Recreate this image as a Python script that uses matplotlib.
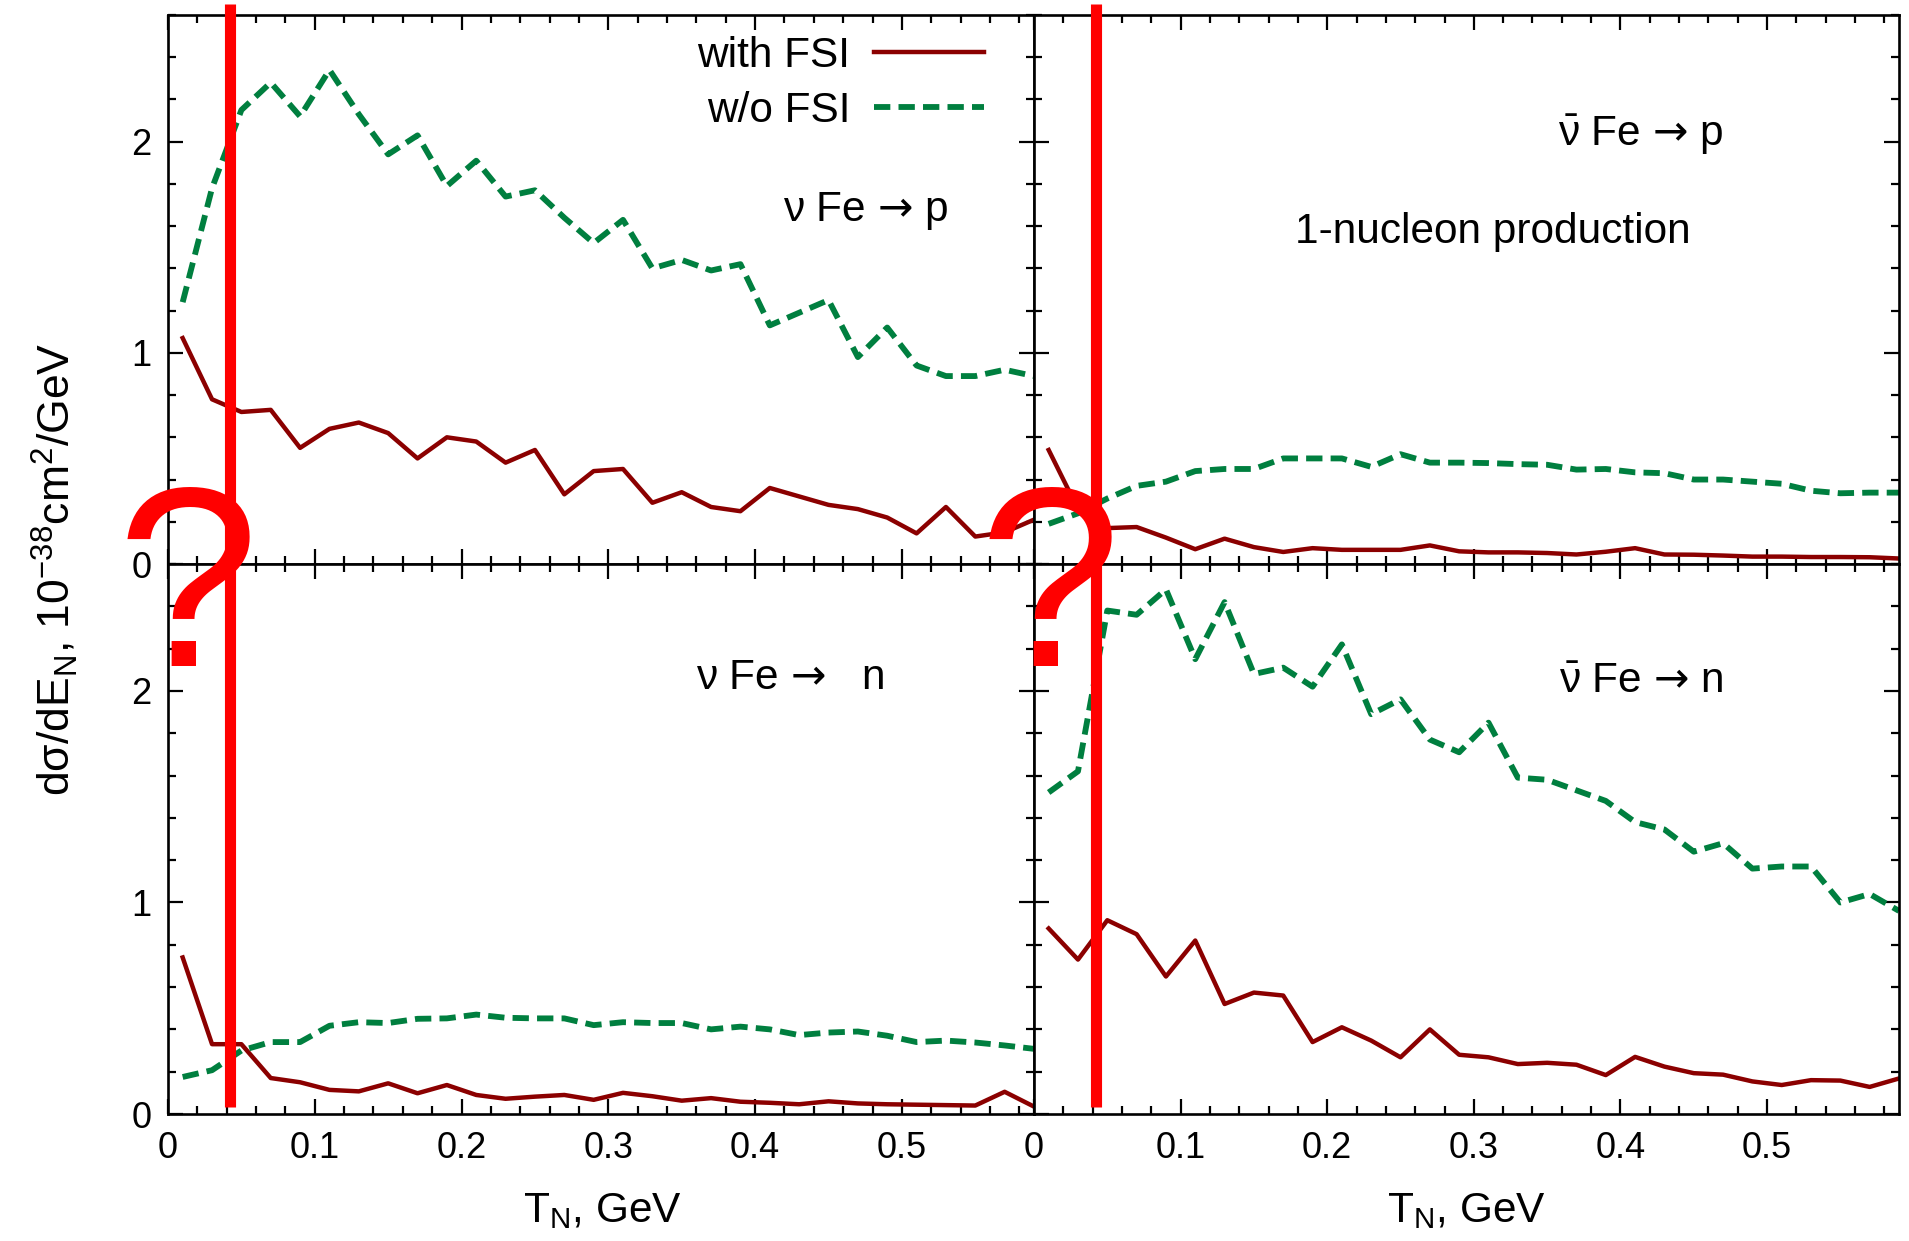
import numpy as np
import matplotlib
matplotlib.use("Agg")
import matplotlib.pyplot as plt
from matplotlib.lines import Line2D
from matplotlib.transforms import blended_transform_factory
from matplotlib.ticker import MultipleLocator

plt.rcParams['font.family'] = ['Liberation Sans', 'DejaVu Sans']
plt.rcParams['mathtext.fontset'] = 'custom'
plt.rcParams['mathtext.rm'] = 'Liberation Sans'
plt.rcParams['mathtext.it'] = 'Liberation Sans'
plt.rcParams['mathtext.bf'] = 'Liberation Sans:bold'
plt.rcParams['mathtext.sf'] = 'DejaVu Sans'

# ---------------- data ----------------
T_N = [0.01, 0.03, 0.05, 0.07, 0.09, 0.11, 0.13, 0.15, 0.17, 0.19,
       0.21, 0.23, 0.25, 0.27, 0.29, 0.31, 0.33, 0.35, 0.37, 0.39,
       0.41, 0.43, 0.45, 0.47, 0.49, 0.51, 0.53, 0.55, 0.57, 0.59]

nu_p_fsi = [1.07, 0.78, 0.72, 0.73, 0.55, 0.64, 0.67, 0.62, 0.50, 0.60,
            0.58, 0.48, 0.54, 0.33, 0.44, 0.45, 0.29, 0.34, 0.27, 0.25,
            0.36, 0.32, 0.28, 0.26, 0.22, 0.145, 0.27, 0.13, 0.15, 0.21]
nu_p_nofsi = [1.24, 1.78, 2.15, 2.28, 2.12, 2.34, 2.13, 1.94, 2.03, 1.79,
              1.91, 1.74, 1.77, 1.64, 1.52, 1.63, 1.40, 1.44, 1.39, 1.42,
              1.13, 1.19, 1.25, 0.98, 1.12, 0.94, 0.89, 0.89, 0.92, 0.89]

nubar_p_fsi = [0.54, 0.26, 0.17, 0.175, 0.125, 0.07, 0.12, 0.08, 0.057, 0.075,
               0.067, 0.067, 0.067, 0.088, 0.06, 0.055, 0.055, 0.052, 0.045, 0.058,
               0.075, 0.045, 0.044, 0.04, 0.035, 0.035, 0.033, 0.033, 0.032, 0.026]
nubar_p_nofsi = [0.19, 0.24, 0.31, 0.37, 0.39, 0.44, 0.45, 0.45, 0.50, 0.50,
                 0.50, 0.46, 0.52, 0.48, 0.48, 0.478, 0.473, 0.47, 0.447, 0.45,
                 0.434, 0.43, 0.40, 0.40, 0.39, 0.38, 0.347, 0.335, 0.338, 0.338]

nu_n_fsi = [0.74, 0.33, 0.33, 0.17, 0.15, 0.114, 0.107, 0.145, 0.098, 0.137,
            0.09, 0.072, 0.082, 0.09, 0.067, 0.10, 0.084, 0.063, 0.075, 0.058,
            0.053, 0.046, 0.06, 0.05, 0.046, 0.044, 0.042, 0.04, 0.105, 0.035]
nu_n_nofsi = [0.175, 0.207, 0.30, 0.34, 0.34, 0.417, 0.434, 0.43, 0.45, 0.452,
              0.47, 0.455, 0.452, 0.452, 0.42, 0.434, 0.43, 0.43, 0.40, 0.413,
              0.40, 0.373, 0.385, 0.39, 0.37, 0.34, 0.347, 0.338, 0.324, 0.308]

nubar_n_fsi = [0.877, 0.73, 0.916, 0.85, 0.65, 0.82, 0.52, 0.574, 0.56, 0.34,
               0.41, 0.347, 0.268, 0.40, 0.28, 0.268, 0.236, 0.242, 0.233, 0.184,
               0.27, 0.224, 0.193, 0.186, 0.154, 0.137, 0.16, 0.158, 0.128, 0.168]
nubar_n_nofsi = [1.52, 1.62, 2.38, 2.36, 2.48, 2.15, 2.42, 2.08, 2.11, 2.02,
                 2.22, 1.89, 1.96, 1.77, 1.71, 1.85, 1.59, 1.58, 1.53, 1.48,
                 1.38, 1.345, 1.24, 1.28, 1.16, 1.17, 1.17, 1.00, 1.04, 0.96]

panel_labels = [r'$\nu$ Fe $\mathsf{→}$ p',
                r'$\bar{\nu}$ Fe $\mathsf{→}$ p',
                r'$\nu$ Fe $\mathsf{→}$   n',
                r'$\bar{\nu}$ Fe $\mathsf{→}$ n']
legend_labels = ['with FSI', 'w/o FSI']
xticks = [0, 0.1, 0.2, 0.3, 0.4, 0.5]
xtick_labels = ['0', '0.1', '0.2', '0.3', '0.4', '0.5']
yticks = [0, 1, 2]
ytick_labels = ['0', '1', '2']
marker_T = 0.042  # position of the red vertical marker lines

# ---------------- style ----------------
RED = '#8b0000'
GREEN = '#007f3f'
MARK = '#ff0000'
FS_TICK = 26
FS_TEXT = 30.5

W, H = 1909, 1241
fig = plt.figure(figsize=(W / 100, H / 100), dpi=100)

xl, xm, xr = 168 / W, 1034 / W, 1899 / W
yt, ym, yb = 1 - 15 / H, 1 - 564 / H, 1 - 1114 / H

ax_tl = fig.add_axes([xl, ym, xm - xl, yt - ym])
ax_tr = fig.add_axes([xm, ym, xr - xm, yt - ym])
ax_bl = fig.add_axes([xl, yb, xm - xl, ym - yb])
ax_br = fig.add_axes([xm, yb, xr - xm, ym - yb])

panels = [
    (ax_tl, nu_p_fsi, nu_p_nofsi, panel_labels[0], (0.475, 1.67)),
    (ax_tr, nubar_p_fsi, nubar_p_nofsi, panel_labels[1], (0.414, 2.03)),
    (ax_bl, nu_n_fsi, nu_n_nofsi, panel_labels[2], (0.424, 2.06)),
    (ax_br, nubar_n_fsi, nubar_n_nofsi, panel_labels[3], (0.414, 2.04)),
]

LW_RED = 3.2
LW_GREEN = 4.2
DASH = (2.8, 1.4)

for ax, fsi, nofsi, lab, pos in panels:
    ax.plot(T_N, fsi, color=RED, lw=LW_RED)
    ax.plot(T_N, nofsi, color=GREEN, lw=LW_GREEN, dashes=DASH)
    ax.set_xlim(0, 0.59)
    ax.set_ylim(0, 2.6)
    ax.set_xticks(xticks)
    ax.set_yticks(yticks)
    ax.xaxis.set_minor_locator(MultipleLocator(0.02))
    ax.yaxis.set_minor_locator(MultipleLocator(0.2))
    ax.tick_params(which='both', direction='in', top=True, right=True,
                   width=1.6, labelsize=FS_TICK, pad=12)
    ax.tick_params(which='major', length=11)
    ax.tick_params(which='minor', length=5.5)
    for s in ax.spines.values():
        s.set_linewidth(1.9)
    ax.text(pos[0], pos[1], lab, ha='center', va='center', fontsize=FS_TEXT)

for ax in (ax_tl, ax_tr):
    ax.set_xticklabels([])
for ax in (ax_tr, ax_br):
    ax.set_yticklabels([])
for ax in (ax_bl, ax_br):
    ax.set_xticklabels(xtick_labels)
for ax in (ax_tl, ax_bl):
    ax.set_yticklabels(ytick_labels)

ax_tr.text(0.313, 1.57, '1-nucleon production', ha='center', va='center',
           fontsize=FS_TEXT)

h1 = Line2D([], [], color=RED, lw=LW_RED)
h2 = Line2D([], [], color=GREEN, lw=LW_GREEN, dashes=DASH)
ax_tl.legend([h1, h2], legend_labels, loc='upper right',
             bbox_to_anchor=(0.942, 0.962), markerfirst=False, frameon=False,
             fontsize=FS_TEXT, handlelength=2.6, handletextpad=0.55,
             labelspacing=0.35, borderpad=0, borderaxespad=0)

fig.text(55 / W, 1 - 569 / H,
         r'd$\sigma$/dE$_{\mathrm{N}}$, 10$^{-38}$cm$^{2}$/GeV',
         rotation=90, ha='center', va='center', fontsize=32)
fig.text(603 / W, 1 - 1211 / H, r'T$_{\mathrm{N}}$, GeV', ha='center',
         va='center', fontsize=FS_TEXT)
fig.text(1467 / W, 1 - 1211 / H, r'T$_{\mathrm{N}}$, GeV', ha='center',
         va='center', fontsize=FS_TEXT)

# red overlay marks
for ax in (ax_tl, ax_tr):
    tr = blended_transform_factory(ax.transData, fig.transFigure)
    fig.add_artist(Line2D([marker_T, marker_T], [1 - 4 / H, 1 - 1107 / H],
                          transform=tr, color=MARK, lw=8, zorder=20,
                          solid_capstyle='butt'))
for xq in (188, 1050):
    fig.text(xq / W, 1 - 600 / H, '?', ha='center', va='center', color=MARK,
             fontsize=184, fontweight='normal', family='Liberation Sans',
             zorder=21)

fig.savefig('out.png', dpi=100)
